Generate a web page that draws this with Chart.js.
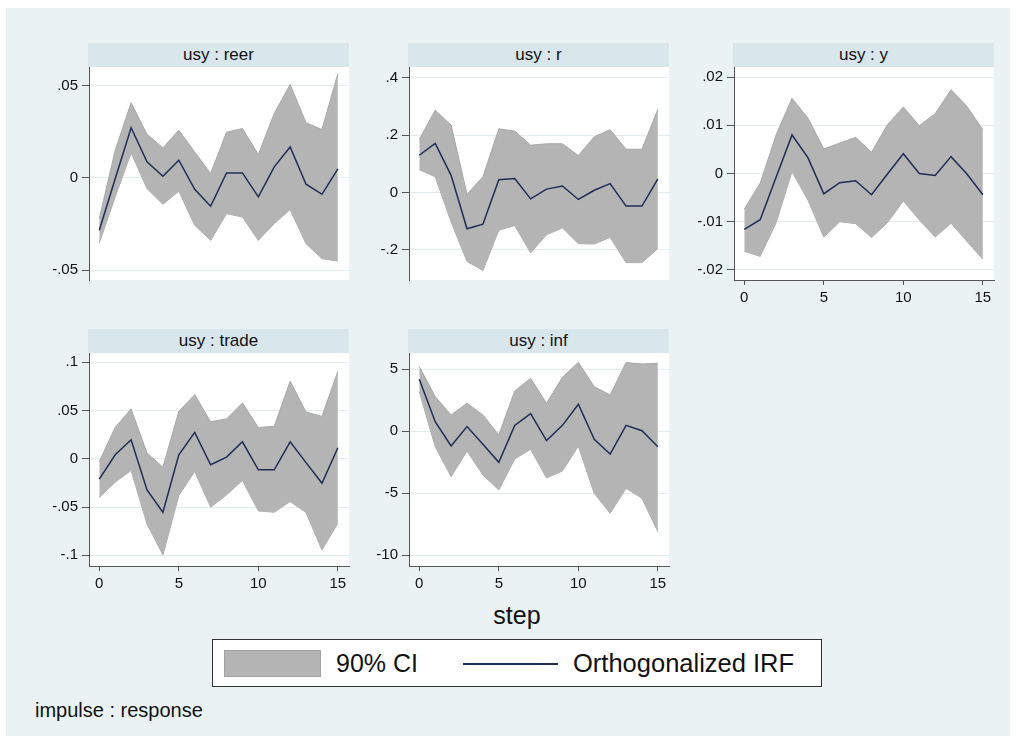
<!DOCTYPE html>
<html lang="en">
<head>
<meta charset="utf-8">
<title>usy impulse responses</title>
<script src="https://cdn.jsdelivr.net/npm/chart.js@4.4.1/dist/chart.umd.min.js"></script>
<style>
  body { margin: 0; width: 1016px; height: 744px; background: #fff; font-family: "Liberation Sans", Arial, sans-serif; color: #111; }
  #fundo { position: absolute; left: 6px; top: 8px; width: 1004px; height: 728px; background: #eaf2f3; }
  canvas { position: absolute; }
  .faixa { position: absolute; height: 24px; line-height: 24px; background: #d9e6eb; text-align: center; font-size: 17px; }
  .rotulo { position: absolute; white-space: nowrap; }
  #legenda { position: absolute; left: 212px; top: 639px; width: 608px; height: 46px; background: #fff; border: 1px solid #333; }
  #legenda .amostra { position: absolute; left: 11px; top: 10px; width: 95px; height: 25px; background: #b4b4b4; border: 1px solid #a2a2a2; }
  #legenda .linha { position: absolute; left: 250px; top: 23px; width: 95px; height: 2px; background: #1f2d55; }
  #legenda .txt { position: absolute; top: 8px; font-size: 25px; line-height: 30px; white-space: nowrap; }
</style>
</head>
<body>
<div id="fundo"></div>

<div class="rotulo" style="left:0; width:1034px; top:601px; font-size:25px; text-align:center;">step</div>
<div id="legenda">
  <span class="amostra"></span>
  <span class="txt" style="left:123px;">90% CI</span>
  <span class="linha"></span>
  <span class="txt" style="left:360px; font-size:25.5px;">Orthogonalized IRF</span>
</div>
<div class="rotulo" style="left:35px; top:699px; font-size:20px;">impulse : response</div>

<script>
// horizonte das respostas
const steps = [0, 1, 2, 3, 4, 5, 6, 7, 8, 9, 10, 11, 12, 13, 14, 15];
const stepTicks = [0, 5, 10, 15];

// usy : reer
const irfReer = [-0.0284, -0.0005, 0.0272, 0.0087, 0.0009, 0.0096, -0.0062, -0.0154, 0.0027, 0.0027, -0.0103, 0.0060, 0.0168, -0.0034, -0.0089, 0.0049];
const upReer  = [-0.0221, 0.0150, 0.0408, 0.0237, 0.0163, 0.0259, 0.0141, 0.0024, 0.0248, 0.0268, 0.0127, 0.0350, 0.0507, 0.0299, 0.0263, 0.0567];
const loReer  = [-0.0353, -0.0103, 0.0136, -0.0058, -0.0143, -0.0072, -0.0257, -0.0339, -0.0194, -0.0212, -0.0339, -0.0248, -0.0172, -0.0357, -0.0438, -0.0451];
const ticksReer = [-0.05, 0, 0.05];

// usy : r
const irfR = [0.130, 0.171, 0.060, -0.126, -0.110, 0.045, 0.049, -0.022, 0.012, 0.023, -0.024, 0.008, 0.031, -0.047, -0.047, 0.048];
const upR  = [0.185, 0.287, 0.235, -0.006, 0.055, 0.222, 0.214, 0.165, 0.170, 0.170, 0.129, 0.194, 0.219, 0.151, 0.151, 0.290];
const loR  = [0.080, 0.055, -0.102, -0.240, -0.271, -0.131, -0.115, -0.210, -0.147, -0.123, -0.178, -0.179, -0.156, -0.244, -0.244, -0.195];
const ticksR = [-0.2, 0, 0.2, 0.4];

// usy : y
const irfY = [-0.0116, -0.0096, -0.0008, 0.0080, 0.0033, -0.0042, -0.0019, -0.0015, -0.0044, -0.0001, 0.0041, 0.0000, -0.0004, 0.0035, -0.0001, -0.0044];
const upY  = [-0.0074, -0.0020, 0.0080, 0.0156, 0.0115, 0.0051, 0.0063, 0.0075, 0.0044, 0.0101, 0.0138, 0.0099, 0.0124, 0.0174, 0.0139, 0.0091];
const loY  = [-0.0161, -0.0172, -0.0102, 0.0004, -0.0055, -0.0132, -0.0100, -0.0104, -0.0133, -0.0102, -0.0057, -0.0096, -0.0132, -0.0103, -0.0141, -0.0178];
const ticksY = [-0.02, -0.01, 0, 0.01, 0.02];

// usy : trade
const irfTrade = [-0.0211, 0.0042, 0.0197, -0.0322, -0.0554, 0.0042, 0.0273, -0.0062, 0.0017, 0.0176, -0.0114, -0.0114, 0.0176, -0.0040, -0.0253, 0.0114];
const upTrade  = [-0.0028, 0.0325, 0.0516, 0.0059, -0.0087, 0.0491, 0.0664, 0.0384, 0.0412, 0.0578, 0.0325, 0.0336, 0.0803, 0.0484, 0.0439, 0.0907];
const loTrade  = [-0.0401, -0.0242, -0.0121, -0.0675, -0.0997, -0.0381, -0.0131, -0.0502, -0.0374, -0.0225, -0.0540, -0.0554, -0.0443, -0.0557, -0.0945, -0.0668];
const ticksTrade = [-0.1, -0.05, 0, 0.05, 0.1];

// usy : inf
const irfInf = [4.19, 0.78, -1.18, 0.38, -1.05, -2.50, 0.48, 1.42, -0.75, 0.48, 2.18, -0.65, -1.83, 0.48, 0.05, -1.24];
const upInf  = [5.22, 2.80, 1.32, 2.26, 1.32, -0.30, 3.25, 4.27, 2.26, 4.35, 5.56, 3.60, 2.93, 5.54, 5.43, 5.48];
const loInf  = [3.20, -1.24, -3.66, -1.59, -3.52, -4.73, -2.23, -1.45, -3.76, -3.20, -1.20, -5.00, -6.61, -4.60, -5.40, -8.09];
const ticksInf = [-10, -5, 0, 5];

const paineis = [
    { titulo: 'usy : reer',  irf: irfReer,  up: upReer,  lo: loReer,  ticks: ticksReer,  min: -0.0554, max: 0.0602, left: 89,  top: 67,  eixoX: false },
    { titulo: 'usy : r',     irf: irfR,     up: upR,     lo: loR,     ticks: ticksR,     min: -0.3045, max: 0.4373, left: 409, top: 67,  eixoX: false },
    { titulo: 'usy : y',     irf: irfY,     up: upY,     lo: loY,     ticks: ticksY,     min: -0.0221, max: 0.0221, left: 734, top: 67,  eixoX: true },
    { titulo: 'usy : trade', irf: irfTrade, up: upTrade, lo: loTrade, ticks: ticksTrade, min: -0.1111, max: 0.1096, left: 89,  top: 353, eixoX: true },
    { titulo: 'usy : inf',   irf: irfInf,   up: upInf,   lo: loInf,   ticks: ticksInf,   min: -10.86,  max: 6.315,  left: 409, top: 353, eixoX: true }
];

const LARGURA = 260, ALTURA = 213, EIXO_Y = 70;
const fonteTicks = { family: '"Liberation Sans", Arial, sans-serif', size: 15 };

// área de plotagem branca sobre o fundo azulado
const fundoBranco = {
    id: 'fundoBranco',
    beforeDraw(chart) {
        const { ctx, chartArea: a } = chart;
        ctx.save();
        ctx.fillStyle = '#fff';
        ctx.fillRect(a.left, a.top, a.width, a.height);
        ctx.restore();
    }
};

// .05 em vez de 0.05, como no Stata
function formatarTick(v) {
    return String(v).replace(/^(-?)0\./, '$1.');
}

function pontos(valores) {
    return steps.map((s, i) => ({ x: s, y: valores[i] }));
}

function criarPainel(p) {
    const faixa = document.createElement('div');
    faixa.className = 'faixa';
    faixa.textContent = p.titulo;
    faixa.style.left = (p.left - 1) + 'px';
    faixa.style.top = (p.top - 24) + 'px';
    faixa.style.width = (LARGURA + 1) + 'px';
    document.body.appendChild(faixa);

    const canvas = document.createElement('canvas');
    const padBaixo = p.eixoX ? 0 : 14;
    const altX = p.eixoX ? 30 : 0;
    canvas.width = EIXO_Y + LARGURA + 16;
    canvas.height = 14 + ALTURA + altX + padBaixo;
    canvas.style.left = (p.left - EIXO_Y) + 'px';
    canvas.style.top = (p.top - 14) + 'px';
    document.body.appendChild(canvas);

    new Chart(canvas.getContext('2d'), {
        type: 'line',
        data: {
            datasets: [
                { data: pontos(p.irf), borderColor: '#1f2d55', borderWidth: 1.5, fill: false },
                { data: pontos(p.up), borderColor: '#a8a8a8', borderWidth: 1, backgroundColor: '#b4b4b4', fill: '+1' },
                { data: pontos(p.lo), borderColor: '#a8a8a8', borderWidth: 1, fill: false }
            ]
        },
        options: {
            responsive: false,
            animation: false,
            layout: { padding: { top: 14, right: 16, bottom: padBaixo, left: 0 } },
            elements: { point: { radius: 0 }, line: { tension: 0 } },
            plugins: { legend: { display: false }, tooltip: { enabled: false } },
            scales: {
                x: {
                    type: 'linear',
                    min: -0.647,
                    max: 15.70,
                    display: p.eixoX,
                    afterBuildTicks: s => { s.ticks = stepTicks.map(v => ({ value: v })); },
                    afterFit: s => { s.height = altX; s.paddingLeft = 0; s.paddingRight = 0; },
                    grid: { drawOnChartArea: false, tickLength: 5, tickColor: '#555' },
                    border: { color: '#555' },
                    ticks: { font: fonteTicks, color: '#111', padding: 4, maxRotation: 0, autoSkip: false }
                },
                y: {
                    min: p.min,
                    max: p.max,
                    afterBuildTicks: s => { s.ticks = p.ticks.map(v => ({ value: v })); },
                    afterFit: s => { s.width = EIXO_Y; s.paddingTop = 0; s.paddingBottom = 0; },
                    grid: { color: '#e3edf0', tickLength: 7, tickColor: '#555' },
                    border: { color: '#555' },
                    ticks: { font: fonteTicks, color: '#111', padding: 4, autoSkip: false, callback: v => formatarTick(v) }
                }
            }
        },
        plugins: [fundoBranco]
    });
}

paineis.forEach(criarPainel);
</script>
</body>
</html>
